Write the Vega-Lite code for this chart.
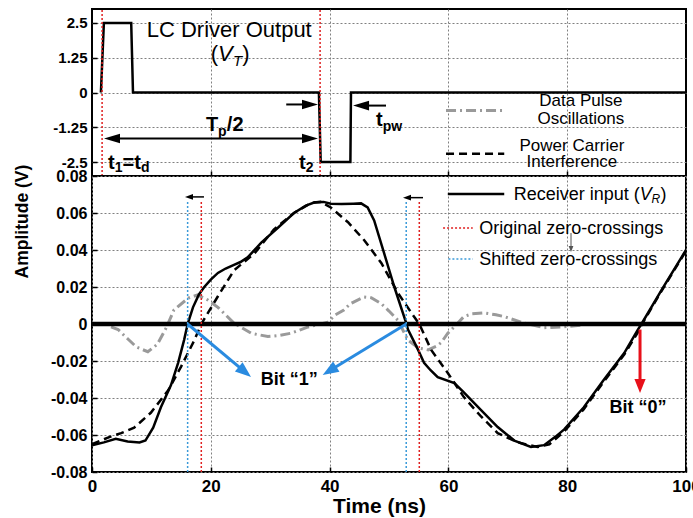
{
  "$schema": "https://vega.github.io/schema/vega-lite/v6.json",
  "background": "white",
  "padding": {"left": 12, "top": 7, "right": 0, "bottom": 0},
  "spacing": 0,
  "bounds": "flush",
  "config": {
    "view": {"stroke": "black", "strokeWidth": 2},
    "axis": {"gridColor": "#808080", "gridDash": [2, 2], "gridWidth": 1, "gridOpacity": 1, "ticks": true, "tickSize": -5, "tickColor": "black", "tickWidth": 1.5, "domain": false, "labelColor": "black", "labelFont": "Liberation Sans", "labelFontWeight": "bold", "titleColor": "black", "titleFont": "Liberation Sans", "titleFontWeight": "bold"}
  },
  "resolve": {"scale": {"x": "independent", "y": "independent"}},
  "datasets": {
    "wave": [
      {"t": 1.5, "v": 0}, {"t": 2.0, "v": 2.5}, {"t": 6.6, "v": 2.5}, {"t": 6.9, "v": 0},
      {"t": 38.2, "v": 0}, {"t": 38.5, "v": -2.5}, {"t": 43.5, "v": -2.5}, {"t": 43.6, "v": 0}, {"t": 100, "v": 0}
    ],
    "receiver": [
      {"t": 0, "v": -0.0655}, {"t": 2, "v": -0.064}, {"t": 4, "v": -0.062}, {"t": 6, "v": -0.0635},
      {"t": 8, "v": -0.064}, {"t": 9, "v": -0.063}, {"t": 10.3, "v": -0.056}, {"t": 11.6, "v": -0.045},
      {"t": 13.3, "v": -0.033}, {"t": 14.5, "v": -0.021}, {"t": 15.5, "v": -0.0087}, {"t": 16.1, "v": 0},
      {"t": 17, "v": 0.009}, {"t": 18, "v": 0.016}, {"t": 18.9, "v": 0.02}, {"t": 20, "v": 0.024},
      {"t": 21.2, "v": 0.0276}, {"t": 22.5, "v": 0.03}, {"t": 23.9, "v": 0.032}, {"t": 25, "v": 0.0335},
      {"t": 26.2, "v": 0.036}, {"t": 28.5, "v": 0.044}, {"t": 31.3, "v": 0.052}, {"t": 34, "v": 0.06},
      {"t": 36, "v": 0.064}, {"t": 37.5, "v": 0.0658}, {"t": 39, "v": 0.066}, {"t": 40.2, "v": 0.065},
      {"t": 42, "v": 0.0648}, {"t": 44, "v": 0.065}, {"t": 45.3, "v": 0.0652}, {"t": 46.4, "v": 0.063},
      {"t": 47.5, "v": 0.056}, {"t": 49.2, "v": 0.038}, {"t": 50.9, "v": 0.02}, {"t": 52.9, "v": 0.0005},
      {"t": 53.2, "v": -0.003}, {"t": 54.9, "v": -0.014}, {"t": 55.9, "v": -0.021}, {"t": 57, "v": -0.025},
      {"t": 58.2, "v": -0.0287}, {"t": 61, "v": -0.032}, {"t": 62.6, "v": -0.037}, {"t": 65.5, "v": -0.0465},
      {"t": 68.3, "v": -0.0557}, {"t": 71.1, "v": -0.063}, {"t": 73.9, "v": -0.0665}, {"t": 76.1, "v": -0.0655},
      {"t": 78, "v": -0.061}, {"t": 79.5, "v": -0.057}, {"t": 82.8, "v": -0.045}, {"t": 86.2, "v": -0.03},
      {"t": 89.6, "v": -0.0157}, {"t": 91.9, "v": -0.003}, {"t": 92.5, "v": 0}, {"t": 96, "v": 0.019}, {"t": 100, "v": 0.04}
    ],
    "carrier": [
      {"t": 0, "v": -0.065}, {"t": 1.5, "v": -0.063}, {"t": 3, "v": -0.061}, {"t": 4.9, "v": -0.059},
      {"t": 7.1, "v": -0.056}, {"t": 9.9, "v": -0.048}, {"t": 12.8, "v": -0.036}, {"t": 15, "v": -0.023},
      {"t": 17.2, "v": -0.009}, {"t": 18.4, "v": 0}, {"t": 21.2, "v": 0.015}, {"t": 23.9, "v": 0.029},
      {"t": 27.3, "v": 0.038}, {"t": 30.6, "v": 0.051}, {"t": 34, "v": 0.06}, {"t": 36.9, "v": 0.0654},
      {"t": 38.5, "v": 0.066}, {"t": 40.2, "v": 0.063}, {"t": 43.1, "v": 0.055}, {"t": 45.8, "v": 0.0454},
      {"t": 48.7, "v": 0.033}, {"t": 51.5, "v": 0.0168}, {"t": 54.2, "v": 0.004}, {"t": 55.1, "v": 0},
      {"t": 57.1, "v": -0.014}, {"t": 59.9, "v": -0.0265}, {"t": 62.6, "v": -0.0395}, {"t": 65.5, "v": -0.05},
      {"t": 68.3, "v": -0.059}, {"t": 71.7, "v": -0.064}, {"t": 75, "v": -0.0665}, {"t": 77, "v": -0.065},
      {"t": 79.5, "v": -0.058}, {"t": 82.8, "v": -0.046}, {"t": 86.2, "v": -0.031}, {"t": 89.6, "v": -0.0165},
      {"t": 92, "v": -0.004}, {"t": 92.6, "v": 0}, {"t": 96, "v": 0.0185}, {"t": 100, "v": 0.0395}
    ],
    "pulse": [
      {"t": 3.2, "v": -0.0015}, {"t": 4.4, "v": -0.003}, {"t": 6, "v": -0.008}, {"t": 7.5, "v": -0.0125},
      {"t": 9.4, "v": -0.015}, {"t": 11, "v": -0.011}, {"t": 12.5, "v": -0.002}, {"t": 13.8, "v": 0.0076},
      {"t": 16.2, "v": 0.014}, {"t": 17.8, "v": 0.0157}, {"t": 19.5, "v": 0.013}, {"t": 21.2, "v": 0.009},
      {"t": 23.9, "v": 0.0005}, {"t": 26.8, "v": -0.005}, {"t": 29.6, "v": -0.0068}, {"t": 31.5, "v": -0.0062},
      {"t": 33.5, "v": -0.005}, {"t": 36.4, "v": -0.0016}, {"t": 39.7, "v": 0.001}, {"t": 41, "v": 0.005},
      {"t": 42.4, "v": 0.0076}, {"t": 43.5, "v": 0.011}, {"t": 45.8, "v": 0.0146}, {"t": 47, "v": 0.0142},
      {"t": 48.7, "v": 0.011}, {"t": 50, "v": 0.007}, {"t": 51.5, "v": 0.002}, {"t": 53.2, "v": -0.0087},
      {"t": 55, "v": -0.013}, {"t": 56.6, "v": -0.014}, {"t": 58, "v": -0.012}, {"t": 58.8, "v": -0.01},
      {"t": 59.9, "v": -0.005}, {"t": 61, "v": -0.0015}, {"t": 62.6, "v": 0.004}, {"t": 64, "v": 0.0055},
      {"t": 66, "v": 0.006}, {"t": 68, "v": 0.005}, {"t": 69.4, "v": 0.004}, {"t": 72.7, "v": 0.0005},
      {"t": 76.1, "v": -0.002}, {"t": 79.5, "v": -0.0015}, {"t": 82.3, "v": -0.0007}
    ]
  },
  "vconcat": [
    {
      "width": 594,
      "height": 167,
      "encoding": {
        "x": {"field": "t", "type": "quantitative", "scale": {"domain": [0, 100], "nice": false, "zero": false},
              "axis": {"title": null, "labels": false, "grid": true, "values": [20, 40, 60, 80], "minExtent": 0, "maxExtent": 0, "offset": 0, "labelPadding": 0, "titlePadding": 0}},
        "y": {"field": "v", "type": "quantitative", "scale": {"domain": [-3, 3], "nice": false, "zero": false},
              "axis": {"title": null, "grid": true, "values": [-2.5, -1.25, 0, 1.25, 2.5], "labelFontSize": 15, "labelPadding": 10,
                       "labelExpr": "datum.value == 0 ? '0' : replace(format(datum.value, '.2~f'), '\u2212', '-')"}}
      },
      "layer": [
        {"data": {"name": "wave"}, "mark": {"type": "line", "color": "black", "strokeWidth": 2.5}},
        {"data": {"values": [{"t": 1.7, "v": -3, "v2": 3}, {"t": 38.4, "v": -3, "v2": 3}]},
         "mark": {"type": "rule", "color": "#e02020", "strokeWidth": 1.5, "strokeDash": [2, 2]},
         "encoding": {"y2": {"field": "v2"}}},
        {"data": {"values": [{"t": 3.37, "t2": 36.7, "v": -1.65}, {"t": 32.7, "t2": 36.7, "v": -0.43}, {"t": 45.3, "t2": 49.5, "v": -0.47}]},
         "mark": {"type": "rule", "color": "black", "strokeWidth": 2},
         "encoding": {"x2": {"field": "t2"}}},
        {"data": {"values": [{"t": 36.7, "v": -1.65}, {"t": 36.7, "v": -0.43}]},
         "mark": {"type": "point", "shape": "M1,0L-1,-0.6L-1,0.6Z", "filled": true, "color": "black", "opacity": 1, "size": 256, "angle": 0}},
        {"data": {"values": [{"t": 3.37, "v": -1.65}, {"t": 45.3, "v": -0.47}]},
         "mark": {"type": "point", "shape": "M1,0L-1,-0.6L-1,0.6Z", "filled": true, "color": "black", "opacity": 1, "size": 256, "angle": 180}},
        {"data": {"values": [{"t": 23.1, "v": 2.0, "label": "LC Driver Output"}]},
         "mark": {"type": "text", "font": "Liberation Sans", "fontSize": 22, "align": "center", "baseline": "alphabetic", "color": "black"},
         "encoding": {"text": {"field": "label"}}},
        {"data": {"values": [{"t": 20.0, "v": 1.12, "label": "("}, {"t": 25.3, "v": 1.12, "label": ")"}]},
         "mark": {"type": "text", "font": "Liberation Sans", "fontSize": 22, "align": "left", "baseline": "alphabetic", "color": "black"},
         "encoding": {"text": {"field": "label"}}},
        {"data": {"values": [{"t": 21.2, "v": 1.12, "label": "V"}]},
         "mark": {"type": "text", "font": "Liberation Sans", "fontSize": 22, "fontStyle": "italic", "align": "left", "baseline": "alphabetic", "color": "black"},
         "encoding": {"text": {"field": "label"}}},
        {"data": {"values": [{"t": 23.74, "v": 0.97, "label": "T"}]},
         "mark": {"type": "text", "font": "Liberation Sans", "fontSize": 15, "fontStyle": "italic", "align": "left", "baseline": "alphabetic", "color": "black"},
         "encoding": {"text": {"field": "label"}}},
        {"data": {"values": [
            {"t": 19.19, "v": -1.4, "label": "T"}, {"t": 22.7, "v": -1.4, "label": "/2"},
            {"t": 2.69, "v": -2.74, "label": "t"}, {"t": 5.13, "v": -2.74, "label": "=t"},
            {"t": 34.85, "v": -2.74, "label": "t"}, {"t": 47.8, "v": -1.22, "label": "t"}]},
         "mark": {"type": "text", "font": "Liberation Sans", "fontWeight": "bold", "fontSize": 20, "align": "left", "baseline": "alphabetic", "color": "black"},
         "encoding": {"text": {"field": "label"}}},
        {"data": {"values": [
            {"t": 21.2, "v": -1.55, "label": "p"}, {"t": 3.82, "v": -2.86, "label": "1"},
            {"t": 8.25, "v": -2.86, "label": "d"}, {"t": 35.97, "v": -2.86, "label": "2"},
            {"t": 48.94, "v": -1.37, "label": "pw"}]},
         "mark": {"type": "text", "font": "Liberation Sans", "fontWeight": "bold", "fontSize": 14, "align": "left", "baseline": "alphabetic", "color": "black"},
         "encoding": {"text": {"field": "label"}}},
        {"data": {"values": [{"t": 59.6, "v": -0.65}, {"t": 69.4, "v": -0.65}]},
         "mark": {"type": "line", "color": "#9a9a9a", "strokeWidth": 3, "strokeDash": [10, 4, 2, 4]}},
        {"data": {"values": [{"t": 59.6, "v": -2.2}, {"t": 69.4, "v": -2.2}]},
         "mark": {"type": "line", "color": "black", "strokeWidth": 2.5, "strokeDash": [8, 5]}},
        {"data": {"values": [
            {"t": 82.3, "v": -0.5, "label": "Data Pulse"}, {"t": 82.3, "v": -1.12, "label": "Oscillations"},
            {"t": 80.8, "v": -2.09, "label": "Power Carrier"}, {"t": 80.8, "v": -2.67, "label": "Interference"}]},
         "mark": {"type": "text", "font": "Liberation Sans", "fontSize": 17, "align": "center", "baseline": "alphabetic", "color": "black"},
         "encoding": {"text": {"field": "label"}}}
      ]
    },
    {
      "width": 594,
      "height": 296,
      "encoding": {
        "x": {"field": "t", "type": "quantitative", "scale": {"domain": [0, 100], "nice": false, "zero": false},
              "axis": {"title": "Time (ns)", "grid": true, "values": [0, 20, 40, 60, 80, 100], "labelFontSize": 17, "labelPadding": 11, "labelFlush": false,
                       "titleFontSize": 21, "titleX": 287, "titleY": 40, "titleBaseline": "alphabetic", "titleAlign": "center"}},
        "y": {"field": "v", "type": "quantitative", "scale": {"domain": [-0.08, 0.08], "nice": false, "zero": false},
              "axis": {"title": "Amplitude (V)", "grid": true, "values": [-0.08, -0.06, -0.04, -0.02, 0, 0.02, 0.04, 0.06, 0.08], "labelFontSize": 16, "labelPadding": 10,
                       "labelExpr": "datum.value == 0 ? '0' : replace(format(datum.value, '.2f'), '\u2212', '-')",
                       "titleFontSize": 17.5, "titleX": -65, "titleY": 45, "titleAngle": -90, "titleBaseline": "alphabetic", "titleAlign": "center"}}
      },
      "layer": [
        {"data": {"name": "pulse"}, "mark": {"type": "line", "color": "#9a9a9a", "strokeWidth": 3, "strokeDash": [10, 4, 2, 4]}},
        {"data": {"name": "carrier"}, "mark": {"type": "line", "color": "black", "strokeWidth": 2.5, "strokeDash": [8, 5]}},
        {"data": {"name": "receiver"}, "mark": {"type": "line", "color": "black", "strokeWidth": 2.5}},
        {"data": {"values": [{"t": 0, "t2": 100, "v": 0}]},
         "mark": {"type": "rule", "color": "black", "strokeWidth": 4.5},
         "encoding": {"x2": {"field": "t2"}}},
        {"data": {"values": [{"t": 18.4, "v": -0.08, "v2": 0.067}, {"t": 55.1, "v": -0.08, "v2": 0.067}]},
         "mark": {"type": "rule", "color": "#e02020", "strokeWidth": 1.5, "strokeDash": [2, 2]},
         "encoding": {"y2": {"field": "v2"}}},
        {"data": {"values": [{"t": 16.1, "v": -0.08, "v2": 0.067}, {"t": 52.9, "v": -0.08, "v2": 0.067}]},
         "mark": {"type": "rule", "color": "#3a9ad9", "strokeWidth": 1.5, "strokeDash": [2, 2]},
         "encoding": {"y2": {"field": "v2"}}},
        {"data": {"values": [{"t": 16.33, "t2": 18.85, "v": 0.0687}, {"t": 53.03, "t2": 55.72, "v": 0.0683}]},
         "mark": {"type": "rule", "color": "black", "strokeWidth": 1.5},
         "encoding": {"x2": {"field": "t2"}}},
        {"data": {"values": [{"t": 16.33, "v": 0.0687}, {"t": 53.03, "v": 0.0683}]},
         "mark": {"type": "point", "shape": "M1,0L-1,-0.7L-1,0.7Z", "filled": true, "color": "black", "opacity": 1, "size": 64, "angle": 180}},
        {"data": {"values": [{"t": 16.1, "v": 0, "t2": 25.74, "v2": -0.0259}, {"t": 52.9, "v": 0, "t2": 39.98, "v2": -0.0253}]},
         "mark": {"type": "rule", "color": "#2a8be0", "strokeWidth": 3},
         "encoding": {"x2": {"field": "t2"}, "y2": {"field": "v2"}}},
        {"data": {"values": [{"t": 25.74, "v": -0.0259}]},
         "mark": {"type": "point", "shape": "M1,0L-1,-0.75L-1,0.75Z", "filled": true, "color": "#2a8be0", "opacity": 1, "size": 256, "angle": 39.8}},
        {"data": {"values": [{"t": 39.98, "v": -0.0253}]},
         "mark": {"type": "point", "shape": "M1,0L-1,-0.75L-1,0.75Z", "filled": true, "color": "#2a8be0", "opacity": 1, "size": 256, "angle": 147.9}},
        {"data": {"values": [{"t": 92.26, "v": -0.003, "v2": -0.0335}]},
         "mark": {"type": "rule", "color": "#e8101a", "strokeWidth": 3},
         "encoding": {"y2": {"field": "v2"}}},
        {"data": {"values": [{"t": 92.26, "v": -0.0335}]},
         "mark": {"type": "point", "shape": "M1,0L-1,-0.8L-1,0.8Z", "filled": true, "color": "#e8101a", "opacity": 1, "size": 196, "angle": 90}},
        {"data": {"values": [{"t": 33.2, "v": -0.033, "label": "Bit \u201c1\u201d"}, {"t": 91.9, "v": -0.0481, "label": "Bit \u201c0\u201d"}]},
         "mark": {"type": "text", "font": "Liberation Sans", "fontWeight": "bold", "fontSize": 18, "align": "center", "baseline": "alphabetic", "color": "black"},
         "encoding": {"text": {"field": "label"}}},
        {"data": {"values": [{"t": 59.9, "v": 0.0703}, {"t": 69.4, "v": 0.0703}]},
         "mark": {"type": "line", "color": "black", "strokeWidth": 2.5}},
        {"data": {"values": [{"t": 59.1, "t2": 64.1, "v": 0.0519}]},
         "mark": {"type": "rule", "color": "#e02020", "strokeWidth": 1.5, "strokeDash": [2, 2]},
         "encoding": {"x2": {"field": "t2"}}},
        {"data": {"values": [{"t": 60.0, "t2": 64.1, "v": 0.0351}]},
         "mark": {"type": "rule", "color": "#3a9ad9", "strokeWidth": 1.5, "strokeDash": [2, 2]},
         "encoding": {"x2": {"field": "t2"}}},
        {"data": {"values": [{"t": 80.64, "v": 0.0492, "v2": 0.0406}]},
         "mark": {"type": "rule", "color": "#555555", "strokeWidth": 1},
         "encoding": {"y2": {"field": "v2"}}},
        {"data": {"values": [{"t": 80.64, "v": 0.0406}]},
         "mark": {"type": "point", "shape": "M1,0L-1,-0.8L-1,0.8Z", "filled": true, "color": "#555555", "opacity": 1, "size": 36, "angle": 90}},
        {"data": {"values": [
            {"t": 71.0, "v": 0.0671, "label": "Receiver input ("}, {"t": 95.7, "v": 0.0671, "label": ")"},
            {"t": 65.2, "v": 0.0487, "label": "Original zero-crossings"}, {"t": 65.2, "v": 0.0319, "label": "Shifted zero-crossings"}]},
         "mark": {"type": "text", "font": "Liberation Sans", "fontSize": 18, "align": "left", "baseline": "alphabetic", "color": "black"},
         "encoding": {"text": {"field": "label"}}},
        {"data": {"values": [{"t": 92.2, "v": 0.0671, "label": "V"}]},
         "mark": {"type": "text", "font": "Liberation Sans", "fontSize": 18, "fontStyle": "italic", "align": "left", "baseline": "alphabetic", "color": "black"},
         "encoding": {"text": {"field": "label"}}},
        {"data": {"values": [{"t": 94.2, "v": 0.0655, "label": "R"}]},
         "mark": {"type": "text", "font": "Liberation Sans", "fontSize": 12, "fontStyle": "italic", "align": "left", "baseline": "alphabetic", "color": "black"},
         "encoding": {"text": {"field": "label"}}}
      ]
    }
  ]
}
